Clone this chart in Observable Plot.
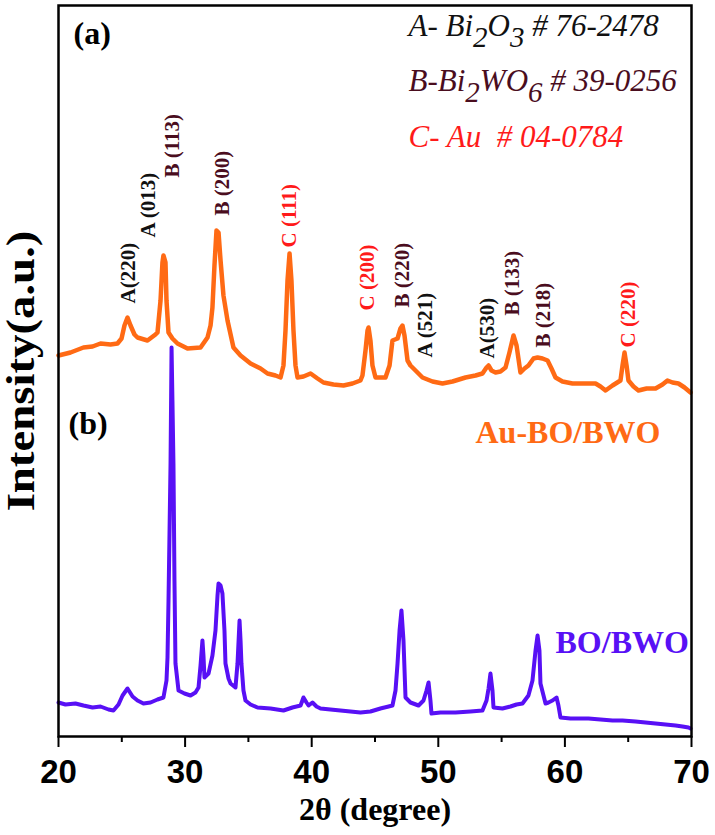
<!DOCTYPE html>
<html><head><meta charset="utf-8">
<script src="https://cdn.jsdelivr.net/npm/d3@7"></script>
<script src="https://cdn.jsdelivr.net/npm/@observablehq/plot@0.6"></script>
<style>body{margin:0;background:#fff} svg{display:block}</style>
</head><body><div id="chart"></div>
<script>
// Au-BO/BWO pattern (a)
const auTheta = [20.00,20.95,21.97,22.69,23.32,24.11,24.66,24.98,25.21,25.45,25.69,26.00,26.24,27.03,27.66,27.82,28.06,28.21,28.29,28.45,28.53,28.69,29.00,29.40,30.19,31.22,31.77,32.01,32.16,32.32,32.48,32.64,32.80,33.03,33.35,33.82,34.38,35.17,35.96,36.51,37.14,37.54,37.77,37.93,38.09,38.25,38.40,38.56,38.72,38.88,39.35,39.91,40.46,40.93,41.72,42.51,43.22,43.85,44.01,44.25,44.41,44.49,44.64,44.80,45.04,45.83,46.15,46.38,46.78,47.01,47.17,47.33,47.57,47.80,48.04,48.75,49.54,50.33,51.12,52.15,52.94,53.49,53.81,53.97,54.20,54.52,54.91,55.31,55.62,55.94,56.18,56.49,56.81,57.12,57.52,57.84,58.23,58.63,58.94,59.26,59.81,60.60,61.63,62.42,62.81,63.21,63.76,64.39,64.55,64.71,64.87,65.02,65.42,65.81,66.45,67.16,67.71,68.10,68.50,68.97,69.45,69.92];
const auIntensity = [381,384,389,390,393,392,393,398,411,419,411,402,399,396,402,404,436,474,481,474,436,404,398,393,388,389,399,411,429,471,506,504,476,441,416,389,381,373,368,363,361,359,371,406,456,483,456,406,371,359,360,363,358,354,352,351,353,356,361,386,406,409,396,371,359,359,371,396,398,408,411,401,376,371,368,359,355,353,355,359,361,363,369,371,366,364,365,369,384,401,391,364,368,371,378,379,378,376,368,359,355,353,353,353,350,346,351,356,371,384,371,356,350,346,348,348,352,356,354,353,349,344];
// BO/BWO pattern (b)
const boTheta = [20.00,20.55,21.34,21.97,22.69,23.32,23.95,24.34,24.74,25.06,25.45,25.85,26.24,26.71,27.27,27.82,28.29,28.53,28.61,28.69,28.85,28.93,29.00,29.08,29.16,29.24,29.48,29.95,30.43,30.82,31.06,31.22,31.37,31.45,31.53,31.85,32.16,32.40,32.56,32.64,32.80,32.95,33.11,33.19,33.43,33.59,33.98,34.06,34.14,34.30,34.38,34.45,34.61,34.77,35.17,35.72,36.75,37.77,38.48,39.12,39.35,39.59,39.75,40.06,40.38,40.70,41.48,42.27,43.06,43.85,44.64,45.43,46.07,46.38,46.62,46.78,46.94,47.09,47.25,47.41,47.80,48.44,48.83,49.07,49.23,49.38,49.46,50.17,51.36,52.54,53.49,53.81,53.97,54.12,54.28,54.36,55.07,55.70,56.18,56.65,57.12,57.44,57.68,57.84,57.99,58.07,58.31,58.47,58.70,59.02,59.34,59.49,59.65,60.44,61.23,61.86,62.81,63.76,64.55,65.58,66.37,67.16,67.95,68.74,69.29,69.76,69.92];
const boIntensity = [34,32,33,31,29,30,27,26,32,41,48,40,36,33,34,37,39,56,79,136,273,389,336,273,156,73,46,43,41,44,49,71,96,81,59,63,81,106,141,153,151,143,106,73,58,53,49,61,73,116,96,73,46,36,32,29,28,26,29,31,39,34,31,34,30,28,27,26,25,24,25,28,30,31,46,73,106,126,96,39,34,31,36,46,54,36,23,24,24,25,26,36,48,63,46,29,28,30,32,33,41,56,86,101,86,53,41,33,34,36,39,31,19,18,18,18,17,16,16,15,14,13,12,11,10,9,8];

// Peak annotations
const peakLabels = ["A(220)","A (013)","B (113)","B (200)","C (111)","C (200)","B (220)","A (521)","A(530)","B (133)","B (218)","C (220)"];
const peakTheta  = [25.52,27.10,29.00,32.94,38.23,44.39,47.15,48.97,53.86,55.83,58.28,64.99];
const peakLabelY = [433,499,559,521,489,426,429,379,378,421,389,389];
const peakPhase  = ["A","A","B","B","C","C","B","A","A","B","B","C"];

const phases = ["A","B","C"];
const phaseColors = ["#111111","#4a0d1e","#ff1a1a"];
// legend lines: odd-index parts are subscripts
const legendLines = [["A- Bi","2","O","3"," # 76-2478"],["B-Bi","2","WO","6"," # 39-0256"],["C- Au  # 04-0784"]];

const xTicks = [20,30,40,50,60,70];
const xMinorTicks = [25,35,45,55,65];

const serif = "'Liberation Serif','Times New Roman',serif";
const sans = "'Liberation Sans',Arial,sans-serif";
const orange = "#ff6a14";
const purple = "#5810f5";

const au = auTheta.map((t,i)=>({t, v: auIntensity[i]}));
const bo = boTheta.map((t,i)=>({t, v: boIntensity[i]}));
const peaks = peakLabels.map((l,i)=>({label:l, t: peakTheta[i], v: peakLabelY[i], phase: peakPhase[i]}));

const legendDy = [30, 85, 141];
const legendMarks = legendLines.map((parts,i)=>Plot.text([parts.join("")], {
  frameAnchor:"top-left", dx:350, dy:legendDy[i], lineAnchor:"bottom", textAnchor:"start",
  fill: phaseColors[i], fontSize:31, fontStyle:"italic", fontFamily: serif
}));

const plot = Plot.plot({
  width:715, height:835,
  marginLeft:58, marginRight:24, marginTop:5, marginBottom:99,
  x:{domain:[20,70], label:null},
  y:{domain:[0,731], axis:null},
  color:{domain:phases, range:phaseColors},
  style:{fontFamily: serif, background:"white", color:"black"},
  marks:[
    Plot.line(au, {x:"t", y:"v", stroke:orange, strokeWidth:4.5, strokeLinejoin:"round"}),
    Plot.line(bo, {x:"t", y:"v", stroke:purple, strokeWidth:4, strokeLinejoin:"round"}),
    Plot.text(peaks, {x:"t", y:"v", text:"label", fill:"phase", rotate:-90, textAnchor:"start", lineAnchor:"middle", fontSize:21, fontWeight:"bold", fontFamily: serif}),
    ...legendMarks,
    Plot.text(["(a)"], {frameAnchor:"top-left", dx:15, dy:38, lineAnchor:"bottom", textAnchor:"start", fontSize:32, fontWeight:"bold"}),
    Plot.text(["(b)"], {frameAnchor:"top-left", dx:10, dy:428, lineAnchor:"bottom", textAnchor:"start", fontSize:32, fontWeight:"bold"}),
    Plot.text(["Au-BO/BWO"], {frameAnchor:"top-left", dx:417, dy:437, lineAnchor:"bottom", textAnchor:"start", fontSize:32, fontWeight:"bold", fill:orange}),
    Plot.text(["BO/BWO"], {frameAnchor:"top-left", dx:497, dy:647, lineAnchor:"bottom", textAnchor:"start", fontSize:32, fontWeight:"bold", fill:purple}),
    Plot.text(["Intensity(a.u.)"], {frameAnchor:"left", dx:-37, rotate:-90, textAnchor:"middle", lineAnchor:"middle", fontSize:39, fontWeight:"bold"}),
    Plot.text(["2\u03b8 (degree)"], {frameAnchor:"bottom", dy:83, textAnchor:"middle", lineAnchor:"bottom", fontSize:32, fontWeight:"bold"}),
    Plot.axisX({ticks:xMinorTicks, tickSize:6, tickFormat:()=>"", label:null, strokeWidth:2}),
    Plot.axisX({ticks:xTicks, tickSize:11, tickPadding:12, fontSize:33, fontWeight:"bold", fontFamily:sans, label:null, strokeWidth:2}),
    Plot.frame({strokeWidth:2.5})
  ]
});
document.getElementById("chart").appendChild(plot);

// stretch the y-axis title along its length, as in the reference
d3.select(plot).selectAll("text").filter(function(){ return this.textContent === "Intensity(a.u.)"; })
  .attr("transform", function(){ return (this.getAttribute("transform") || "") + " scale(1.2,1)"; });

// convert legend subscripts into tspans
const joined = legendLines.map(p=>p.join(""));
d3.select(plot).selectAll("text").each(function(){
  const idx = joined.indexOf(this.textContent);
  if (idx < 0) return;
  const sel = d3.select(this).style("white-space","pre");
  sel.text(null);
  let shifted = false;
  legendLines[idx].forEach((part,j)=>{
    const ts = sel.append("tspan").text(part);
    if (j % 2 === 1) { ts.attr("dy", 11).attr("font-size", 29); shifted = true; }
    else if (shifted) { ts.attr("dy", -11); shifted = false; }
  });
});
</script></body></html>
